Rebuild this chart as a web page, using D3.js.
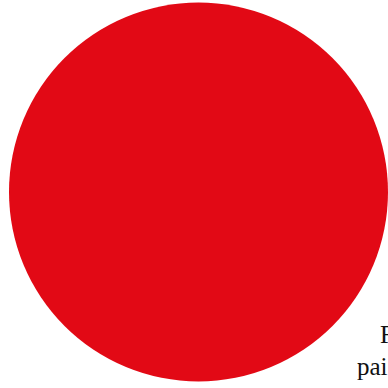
<!DOCTYPE html>
<html><head><meta charset="utf-8">
<script src="https://cdn.jsdelivr.net/npm/d3@7"></script>
<style>html,body{margin:0;padding:0;background:#fff;overflow:hidden}</style>
</head><body>
<svg id="c" width="388" height="388"></svg>
<script>
const categories = ["Total"];
const values = [100];
const labels = ["F", "pai"];
const colors = ["#e20915"];

const svg = d3.select("#c");
const cx = 198.5, cy = 192, r = 189.5;
const pie = d3.pie().sort(null)(values);
const arc = d3.arc().innerRadius(0).outerRadius(r);
const g = svg.append("g").attr("transform", `translate(${cx},${cy})`);
g.selectAll("path").data(pie).enter().append("path")
  .attr("d", arc)
  .attr("fill", (d, i) => colors[i]);

const tx = [380, 357], ty = [343, 375];
svg.selectAll("text.l").data(labels).enter().append("text")
  .attr("class", "l")
  .attr("x", (d, i) => tx[i]).attr("y", (d, i) => ty[i])
  .attr("font-family", "Liberation Serif, serif")
  .attr("font-size", 25)
  .attr("fill", "#111")
  .text(d => d);
</script>
</body></html>
